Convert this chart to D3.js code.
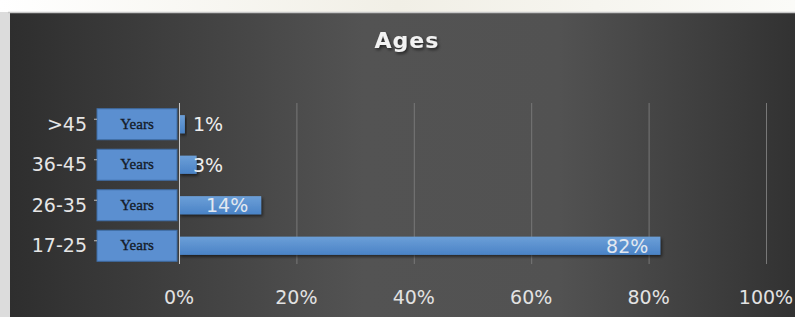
<!DOCTYPE html>
<html>
<head>
<meta charset="utf-8">
<script src="https://cdn.jsdelivr.net/npm/d3@7"></script>
<style>
  html, body { margin: 0; padding: 0; background: #f4f3ee; }
  svg { display: block; }
</style>
</head>
<body>
<div id="chart"></div>
<script>
// Age bands, top to bottom as drawn
const categories = ['>45', '36-45', '26-35', '17-25'];
const shares = [1, 3, 14, 82];            // percent
const labelPlacement = ['outside', 'outside', 'center', 'insideEnd'];
const tickValues = [0, 20, 40, 60, 80, 100];
const tagText = 'Years';
const title = 'Ages';

const W = 795, H = 317;

const svg = d3.select('#chart').append('svg')
    .attr('width', W)
    .attr('height', H);

const defs = svg.append('defs');

// page backdrop above the panel
const pageGrad = defs.append('linearGradient').attr('id', 'page')
    .attr('x1', 0).attr('x2', 1).attr('y1', 0).attr('y2', 0);
pageGrad.append('stop').attr('offset', '0%').attr('stop-color', '#ffffff');
pageGrad.append('stop').attr('offset', '50%').attr('stop-color', '#f1efe6');
pageGrad.append('stop').attr('offset', '100%').attr('stop-color', '#fbfbf8');
svg.append('rect').attr('width', W).attr('height', H).attr('fill', 'url(#page)');

// dark panel, lighter in the middle
const panelGrad = defs.append('linearGradient').attr('id', 'panel')
    .attr('x1', 0).attr('x2', 1).attr('y1', 0).attr('y2', 0);
[['0%', '#2e2e2e'], ['45%', '#535353'], ['70%', '#525252'], ['100%', '#323232']]
    .forEach(([o, c]) => panelGrad.append('stop').attr('offset', o).attr('stop-color', c));

svg.append('rect').attr('x', 0).attr('y', 12).attr('width', 10).attr('height', H - 12)
    .attr('fill', '#dcdcdc');
svg.append('rect').attr('x', 10).attr('y', 12).attr('width', W - 10).attr('height', H - 12)
    .attr('fill', 'url(#panel)');
svg.append('line').attr('x1', 8).attr('x2', W).attr('y1', 12.5).attr('y2', 12.5)
    .attr('stroke', '#c8c8c8').attr('stroke-width', 1.5);

// drop shadow for bars and title
const shadow = defs.append('filter').attr('id', 'shadow')
    .attr('x', '-10%').attr('y', '-30%').attr('width', '130%').attr('height', '180%');
shadow.append('feDropShadow').attr('dx', 1.5).attr('dy', 2).attr('stdDeviation', 1.5)
    .attr('flood-color', '#000').attr('flood-opacity', 0.55);

const barGrad = defs.append('linearGradient').attr('id', 'bar')
    .attr('x1', 0).attr('x2', 0).attr('y1', 0).attr('y2', 1);
barGrad.append('stop').attr('offset', '0%').attr('stop-color', '#6c9fd8');
barGrad.append('stop').attr('offset', '100%').attr('stop-color', '#4a83c6');

const plot = { left: 179, right: 766, top: 103, bottom: 264 };

const x = d3.scaleLinear().domain([0, 100]).range([plot.left, plot.right]);
const y = d3.scaleBand().domain(categories).range([105, 265]).paddingInner(0.55).paddingOuter(0.25);

const g = svg.append('g');

// vertical gridlines
g.selectAll('line.grid')
    .data(tickValues.slice(1))
    .join('line')
    .attr('class', 'grid')
    .attr('x1', d => x(d) + 0.5).attr('x2', d => x(d) + 0.5)
    .attr('y1', plot.top).attr('y2', plot.bottom)
    .attr('stroke', '#787878').attr('stroke-width', 1);

// bars
g.selectAll('rect.bar')
    .data(shares)
    .join('rect')
    .attr('class', 'bar')
    .attr('x', x(0))
    .attr('y', (d, i) => y(categories[i]))
    .attr('width', d => x(d) - x(0))
    .attr('height', y.bandwidth())
    .attr('fill', 'url(#bar)')
    .attr('filter', 'url(#shadow)');

// category axis line
g.append('line')
    .attr('x1', x(0) + 0.5).attr('x2', x(0) + 0.5)
    .attr('y1', plot.top).attr('y2', plot.bottom)
    .attr('stroke', '#c8c8c8').attr('stroke-width', 1);

// "Years" tags sitting left of the axis
const tagH = 31;
const tags = g.selectAll('g.tag')
    .data(categories)
    .join('g')
    .attr('class', 'tag')
    .attr('transform', d => `translate(97,${y(d) + y.bandwidth() / 2 - tagH / 2})`);
tags.append('rect')
    .attr('width', 80).attr('height', tagH)
    .attr('fill', '#5b8fd0').attr('stroke', '#3f6ea8').attr('stroke-width', 1);
tags.append('text')
    .attr('x', 40).attr('y', tagH / 2 + 1)
    .attr('text-anchor', 'middle').attr('dominant-baseline', 'middle')
    .attr('font-family', '"Liberation Serif", "DejaVu Serif", serif')
    .attr('font-size', 15).attr('fill', '#141a26')
    .attr('stroke', '#141a26').attr('stroke-width', 0.3)
    .text(tagText);

// category labels
g.selectAll('text.cat')
    .data(categories)
    .join('text')
    .attr('class', 'cat')
    .attr('x', 87)
    .attr('y', d => y(d) + y.bandwidth() / 2)
    .attr('dy', '0.35em')
    .attr('text-anchor', 'end')
    .attr('font-family', '"DejaVu Sans", sans-serif')
    .attr('font-size', 19)
    .attr('fill', '#e6e6e6')
    .text(d => d);

// small tick dots
g.selectAll('line.cattick')
    .data(categories)
    .join('line')
    .attr('class', 'cattick')
    .attr('x1', 94).attr('x2', 97)
    .attr('y1', d => y(d) + y.bandwidth() / 2 - 5)
    .attr('y2', d => y(d) + y.bandwidth() / 2 - 5)
    .attr('stroke', '#bdbdbd');

// value labels
g.selectAll('text.val')
    .data(shares)
    .join('text')
    .attr('class', 'val')
    .attr('x', (d, i) => {
        const p = labelPlacement[i];
        if (p === 'center') return (x(0) + x(d)) / 2 + 7;
        if (p === 'insideEnd') return x(d) - 12;
        return x(0) + 14;
    })
    .attr('y', (d, i) => y(categories[i]) + y.bandwidth() / 2)
    .attr('dy', '0.36em')
    .attr('text-anchor', (d, i) => labelPlacement[i] === 'center' ? 'middle'
        : labelPlacement[i] === 'insideEnd' ? 'end' : 'start')
    .attr('font-family', '"DejaVu Sans", sans-serif')
    .attr('font-size', 19)
    .attr('fill', (d, i) => labelPlacement[i] === 'outside' ? '#eeeeee' : '#e2e8f0')
    .text(d => d + '%');

// x axis tick labels
g.selectAll('text.tick')
    .data(tickValues)
    .join('text')
    .attr('class', 'tick')
    .attr('x', d => x(d))
    .attr('y', 297)
    .attr('dy', '0.35em')
    .attr('text-anchor', 'middle')
    .attr('font-family', '"DejaVu Sans", sans-serif')
    .attr('font-size', 19)
    .attr('fill', '#e2e2e2')
    .text(d => d + '%');

// title
svg.append('text')
    .attr('x', 407).attr('y', 40)
    .attr('dy', '0.35em')
    .attr('text-anchor', 'middle')
    .attr('font-family', '"DejaVu Sans", sans-serif')
    .attr('font-weight', 'bold')
    .attr('font-size', 22)
    .attr('letter-spacing', 1)
    .attr('fill', '#f2f2f2')
    .attr('filter', 'url(#shadow)')
    .text(title);
</script>
</body>
</html>
